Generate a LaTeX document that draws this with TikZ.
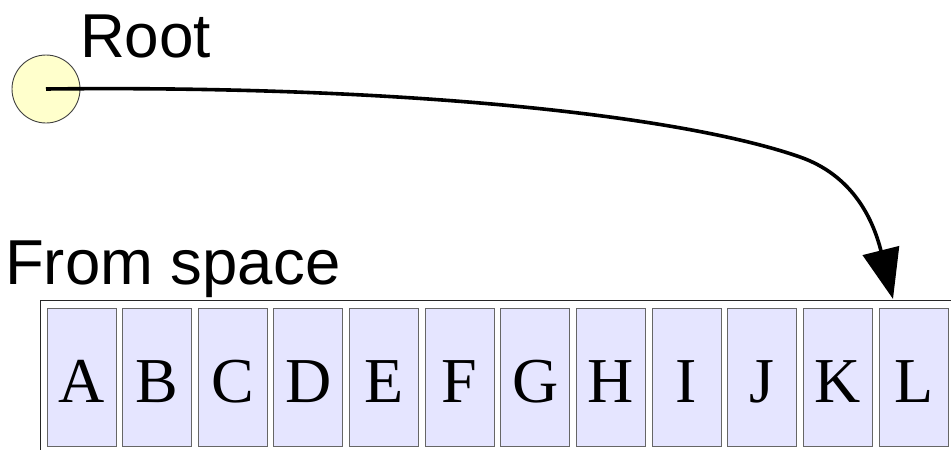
\documentclass[tikz,border=0pt]{standalone}
\usepackage{fontspec}
\setmainfont{Liberation Serif}
\newfontfamily\labelfont{Liberation Sans}
\usetikzlibrary{arrows.meta}
\definecolor{rootfill}{rgb}{1,1,0.8}
\definecolor{cellfill}{rgb}{0.9,0.9,1}
\tikzstyle{cell} = [rectangle,draw=black!60,fill=cellfill,line width=1pt,minimum width=69pt,minimum height=138pt,inner sep=0pt,text height=50pt,text depth=0pt,font=\fontsize{64}{64}\selectfont]
\tikzstyle{caption} = [anchor=base west,inner sep=0pt,font=\labelfont\fontsize{62}{62}\selectfont]

\begin{document}
\begin{tikzpicture}[x=1pt,y=-1pt]
		\useasboundingbox (0,0) rectangle (951,450);
		\clip (0,0) rectangle (951,450);
		\node [circle,draw=black!75,fill=rootfill,line width=0.9pt,minimum size=68pt,inner sep=0pt](root) at (46,89){};
		\node [caption](rootlabel) at (80,57){Root};
		\node [caption,font=\labelfont\fontsize{63.5}{63.5}\selectfont](spacelabel) at (5,284){From space};
		\node [rectangle,draw=black!85,line width=1.3pt,anchor=north west,minimum width=940pt,minimum height=180pt](heap) at (40,300){};
		\foreach \l [count=\i from 0] in {A,B,C,D,E,F,G,H,I,J,K,L}
			\node [cell](box\l) at (81.5+75.64*\i,377){\l};
		\coordinate (target) at (893,299);
		
		\draw[line width=3.6pt,-{Triangle[length=50pt,width=37pt]}](root.center) .. controls (400,85) and (680,115) .. (800,157) .. controls (850,174.5) and (872,215) .. (target);
		\end{tikzpicture}
\end{document}
